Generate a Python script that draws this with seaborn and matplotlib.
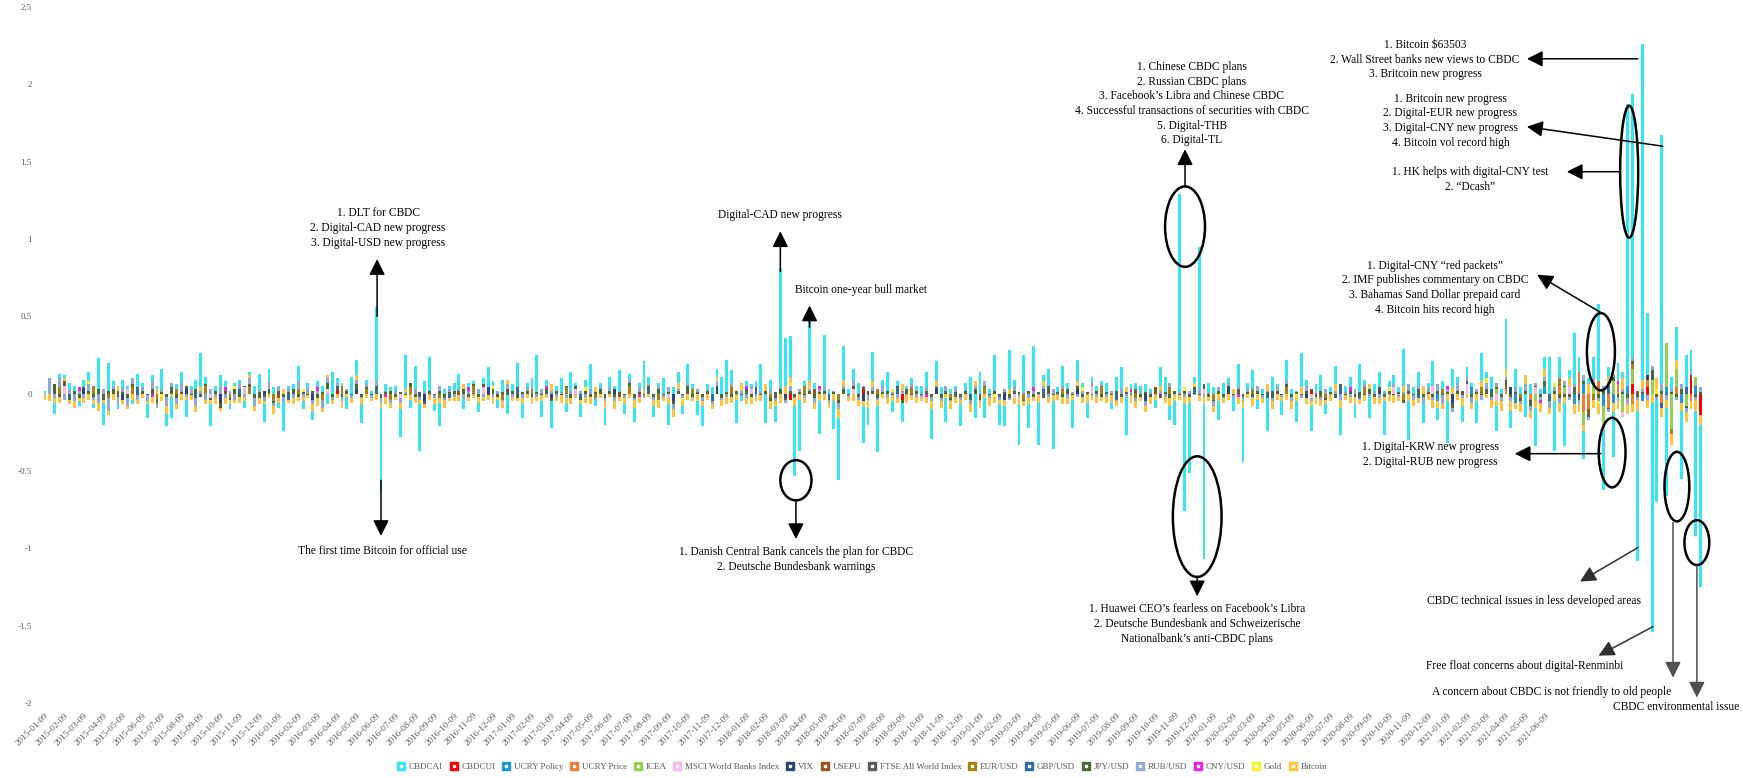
"""
CBDC attention index vs. market variables - weekly stacked contributions.
"""

import matplotlib

matplotlib.use("Agg")
import matplotlib.pyplot as plt
from matplotlib.lines import Line2D
from matplotlib.patches import Ellipse
import numpy as np
import pandas as pd
import seaborn as sns

N_WEEKS = 341

# monthly tick labels, one every 4 weekly bars
month_labels = [
    d.strftime("%Y-%m-%d")
    for d in pd.date_range("2015-01-09", periods=78, freq=pd.DateOffset(months=1))
]

# values are in hundredths
cbdcai = [
    2, 0, -7, 3, 2, 4, 3, -3, 5, 6, -2, 20, -14, 18, 3, -4, 5, 2, -3, 9,
    3, -9, 4, 2, 13, -8, -14, 3, 7, -11, 2, 6, 22, 5, -14, 3, 7, 4, -3, 2,
    3, -4, 2, 5, 10, -11, 7, 4, -3, -18, 2, 3, 10, -5, 3, -6, 4, 4, -7, 14,
    3, 2, -8, 11, 10, -12, 3, 2, 47, -54, 4, 2, 3, -18, 22, -5, 15, -30, 6, 22,
    -4, -15, 3, 2, 5, 10, -7, 3, 2, -6, 4, 12, 3, -5, 8, -12, 4, 15, -9, 3,
    6, 24, -10, 4, -17, 3, 9, -6, 12, 2, -8, 5, 16, -4, 3, -11, 7, 2, 13, -6,
    4, -9, 3, 18, 5, -7, 2, 10, -13, 4, 7, -5, 12, 3, -9, -13, 3, 4, 5, 11,
    21, 8, -15, -4, 3, 2, 4, 17, -18, 6, -10, 77, 31, 26, -45, -33, 3, 42, 4, -21,
    33, 3, -18, -40, 22, 3, 8, 7, -24, -11, 19, -30, 4, 12, -7, 3, -12, 2, 4, 3,
    5, 10, -19, 13, 4, -15, 3, 2, -14, 4, 11, -16, 14, -13, 3, 22, -13, -13, 25, 4,
    -26, 24, -15, 27, -27, 4, 11, -31, 3, 13, 4, -18, 14, 3, -10, 4, 3, 2, 6, -4,
    9, 14, -25, 3, 4, 3, 5, 2, -5, 12, 10, -9, -15, 128, -69, -45, 4, 92, -100, 6,
    4, -12, 7, 3, -8, 15, -35, 4, 12, -6, 3, -21, 9, 2, -9, 14, 3, -13, 22, 4,
    -16, 5, 10, -6, 3, 12, -18, 4, 7, -9, 18, 3, -14, 5, 10, -22, 4, 6, 3, 24,
    -25, 4, 9, -12, 3, 16, -8, 5, -27, 12, 4, -10, 6, 3, -14, 18, 4, 8, -16, 3,
    32, -11, 12, 4, -15, 6, -25, 3, 8, 24, -32, 14, -28, 5, 33, 10, -18, 4, 14, 50,
    -39, 6, -29, 12, 4, 182, 170, -97, 217, 40, -148, -66, 161, -57, 8, 21, -44, 21, 14, -81, -105,
]

bitcoin = [
    -4, -5, -3, -4, 2, -3, -4, -2, -3, -4, -3, -5, -2, -3, -4, 3, -3, -2, -4, -3,
    -3, -2, -4, 3, -3, -5, -2, -3, -4, -2, -3, -4, 2, -3, -3, -5, -2, -4, -3, -2,
    -4, -3, 2, -3, -4, -2, -3, -5, -3, 3, -2, -4, -3, -3, -2, -4, -5, -3, 2, -3,
    -3, -4, -2, -3, 3, -4, -3, -2, -4, -3, -5, -3, -2, -4, 2, -3, -4, -3, -2, -3,
    -4, -3, -5, -2, -3, -4, 3, -3, -2, -4, -3, -3, -5, -2, -4, 3, -3, -2, -4, -3,
    -5, -3, -4, -2, 4, -3, -5, -3, -4, -2, -3, -4, -5, 3, -3, -4, -2, -5, -3, -4,
    -3, -5, -4, 3, -2, -4, -5, -3, -4, -5, 4, -3, -4, -2, -5, -3, -4, -3, 3, -4,
    -5, -4, -3, 5, -4, -5, -3, -4, 4, -5, -3, -6, 5, 4, -5, -4, -3, 5, -4, -5,
    -4, -3, -5, -6, 4, -3, -5, -4, -3, -5, 4, -4, -3, -5, -4, -3, 4, -5, -3, -4,
    -3, -4, -5, 3, -4, -3, -5, -4, -3, -4, -5, 3, -4, -3, -5, -4, -3, -4, 3, -4,
    -5, -3, -4, -3, -5, 3, -4, -4, -3, -5, -4, -3, 3, -4, -5, -3, -4, -3, -4, -5,
    -3, -4, 3, -5, -4, -3, -4, -5, -3, 3, -4, -5, -4, -3, -5, -4, 3, -4, -5, -3,
    -4, -5, -3, -4, 3, -5, -4, -3, -5, -4, -3, 4, -5, -4, -3, -4, -5, -3, 4, -4,
    -3, -5, -4, -3, -4, 4, -5, -3, -4, -5, -3, -4, 3, -5, -4, -3, -4, -5, -3, 4,
    -5, -4, -3, 5, -4, -5, -4, -3, -5, 4, -4, -5, -3, -4, -5, 4, -3, -5, -4, -6,
    5, -6, -4, -5, 6, -5, -4, -6, 5, -4, -5, -6, -4, 5, -6, -5, -4, 6, -5, -6,
    -5, 6, -6, -5, 7, -6, -5, -7, 6, -5, -6, 7, -6, -5, -7, 6, -5, -6, -5, -7, -6,
]

rub_usd = [
    0, 10, -3, 6, -4, 3, -5, 2, -3, 4, -2, -6, 3, -8, 2, -4, 3, -5, 4, -3,
    2, -4, 5, -3, 2, -6, 3, -4, 6, -2, 3, -5, 2, -4, 3, -2, 5, -3, 2, -4,
    3, -2, 4, -5, 2, -3, 6, -2, 3, -4, 2, -3, 5, -2, 4, -3, 2, -5, 3, -2,
    2, -3, 1, -2, 3, -1, 2, -2, 4, -3, 1, -2, 2, -3, 1, -1, 3, -2, 2, -1,
    -2, 3, -1, 2, -2, 1, -3, 2, -1, 3, -2, 1, -2, 2, -1, 3, -2, 1, -3, 2,
    1, -2, 3, -1, 2, -2, 1, -3, 2, -1, 2, -2, 3, -1, 1, -2, 2, -3, 1, -2,
    2, -1, 3, -2, 1, -2, 2, -1, 3, -3, 1, -2, 2, -1, 2, -3, 1, -2, 3, -1,
    -2, 3, -1, 2, -3, 1, -2, 2, -1, 3, -2, 1, -2, 3, -1, 2, -2, 1, -3, 2,
    3, -2, 1, -4, 2, -1, 3, -2, 1, -3, 2, -1, 4, -2, 1, -3, 2, -1, 2, -2,
    -1, 2, -3, 1, -2, 3, -1, 2, -2, 1, -3, 2, -1, 3, -2, 1, -2, 2, -1, 3,
    -2, 1, -3, 2, -1, 2, -2, 3, -1, 2, -3, 1, -2, 2, -1, 3, -2, 1, -2, 2,
    -1, 3, -2, 1, -2, 2, -3, 1, -1, 2, -2, 3, -1, 1, -2, 2, -1, 3, -2, 1,
    -3, 2, -1, 2, -2, 1, -3, 2, -1, 3, -2, 1, -2, 2, -1, 2, -3, 1, -2, 3,
    -2, 1, -2, 3, -1, 2, -4, 1, -2, 3, -1, 2, -2, 1, -3, 2, -1, 2, -2, 1,
    4, -3, 2, -5, 3, -2, 4, -6, 2, -3, 5, -2, 3, -4, 2, -3, 4, -2, 3, -3,
    2, -3, 3, -2, 4, -3, 2, -2, 3, -4, 2, -3, 3, -2, 2, -3, 4, -2, 3, -2,
    3, -2, 2, -3, 2, -4, 3, -2, 2, -3, 3, -2, 4, -3, 2, -2, 3, -3, 2, -2, 3,
]

jpy_usd = [
    0, 0, 4, -2, 3, -1, 2, -3, 1, 2, -2, 3, -1, 2, 3, -2, 1, -3, 2, -1,
    2, -1, 3, -2, 1, -2, 2, -3, 1, 2, -1, 3, -2, 1, -1, 2, -3, 2, -1, 3,
    -2, 1, 2, -3, 1, -2, 3, -1, 2, -2, 1, 3, -2, 1, -1, 2, -3, 1, 4, -2,
    1, -2, 2, -1, 3, -2, 1, -1, 2, -3, 1, 2, -2, 1, -1, 3, -2, 1, -2, 2,
    -1, 2, -3, 1, 2, -1, 3, -2, 1, -2, 2, -1, 3, -2, 1, -1, 2, -3, 1, 2,
    -2, 1, -1, 3, -2, 2, -1, 1, -3, 2, -1, 2, -2, 1, 3, -1, 2, -2, 1, -1,
    2, -3, 1, -1, 2, -2, 3, -1, 1, -2, 2, -1, 3, -2, 1, -2, 2, -1, 1, -3,
    1, -2, 2, -1, 3, -2, 1, -1, 2, -2, 1, 3, -1, 2, -2, 1, -1, 2, -3, 1,
    2, -1, 1, -2, 3, -1, 2, -2, 1, -1, 2, -3, 1, 2, -1, 1, -2, 3, -1, 2,
    -1, 2, -2, 1, -3, 2, -1, 1, -2, 2, -1, 3, -2, 1, -1, 2, -2, 1, -3, 2,
    1, -1, 2, -2, 1, -3, 2, -1, 1, -2, 3, -1, 2, -2, 1, -1, 2, -2, 1, -1,
    2, -2, 1, -1, 3, -2, 1, -2, 2, -1, 1, -3, 2, -1, 2, -2, 1, -1, 3, -2,
    -1, 2, -2, 1, -1, 3, -2, 1, -2, 2, -1, 1, -3, 2, -1, 2, -2, 1, -1, 2,
    1, -2, 2, -1, 1, -3, 2, -1, 2, -2, 1, -1, 3, -2, 1, -2, 2, -1, 1, -2,
    2, -1, 3, -2, 1, -2, 2, -1, 1, -3, 2, -1, 2, -2, 1, -1, 3, -2, 1, -2,
    3, -2, 1, -2, 2, -4, 1, -2, 3, -1, 2, -3, 1, -2, 4, -1, 2, -2, 1, -3,
    2, -1, 3, -2, 1, -3, 2, -2, 1, -1, 3, -2, 2, -1, 1, -2, 3, -1, 2, -2, 1,
]

# sparse series: {week index: value in hundredths}
eur_usd = {3: 4, 10: 5, 13: -3, 18: 4, 23: -4, 27: 3, 33: 5, 38: -3, 42: 4, 47: -5,
           52: 3, 57: -4, 61: 5, 66: 3, 71: -4, 75: 4, 81: -3, 88: 5, 94: -4, 100: 3,
           107: 4, 113: -3, 120: 5, 126: -4, 133: 3, 141: 4, 149: -3, 156: 5, 163: -4,
           171: 3, 178: 4, 186: -3, 193: 4, 201: -4, 209: 3, 217: 5, 224: -3, 231: 4,
           240: -4, 248: 3, 255: 4, 263: -3, 271: 4, 279: -4, 287: 3, 295: 4, 303: -3,
           311: 5, 318: -4, 326: 3, 334: -3}
vix = {8: 3, 16: -4, 29: 3, 36: -6, 45: 2, 55: -4, 64: 3, 78: -5, 91: 4, 104: -3,
       117: 3, 129: -5, 138: 4, 152: -3, 168: -5, 183: 3, 197: -4, 212: 3, 226: -5,
       243: 4, 259: -3, 274: 3, 289: -6, 301: 4, 315: -3, 329: 3}
gbp_usd = {5: -3, 19: 4, 31: -3, 40: 3, 50: -4, 68: 3, 83: -3, 97: 4, 110: -3, 124: 3,
           137: -4, 146: 3, 161: -3, 175: 4, 190: -3, 205: 3, 220: -4, 236: 3, 251: -3,
           266: 4, 282: -3, 297: 3, 309: -4, 321: 5, 332: -3, 337: 4}
ftse = {2: 2, 12: -3, 26: 2, 44: -3, 60: 2, 77: -2, 95: 3, 115: -2, 132: 2, 150: -3,
        169: 2, 187: -2, 206: 3, 229: -2, 252: 2, 270: -3, 291: 2, 312: -2, 330: 3}
msci = {4: 5, 17: 3, 34: -3, 41: 4, 58: 3, 73: -3, 90: 4, 109: 3, 128: -3, 145: 3,
        166: 3, 199: -3, 215: 4, 238: 3, 260: -3, 277: 4, 285: 5, 292: 6, 298: -4,
        306: 4, 313: 5, 324: -3}
cny_usd = {7: 2, 22: -2, 37: 2, 56: 2, 70: -2, 87: 2, 103: 2, 122: -2, 144: 2, 159: 2,
           181: -2, 203: 2, 223: 2, 245: -2, 268: 2, 288: 2, 307: -2, 323: 2}
gold = {9: 2, 24: -2, 39: 2, 53: 2, 74: -2, 92: 2, 111: 2, 131: -2, 153: 2, 174: 2,
        195: -2, 213: 2, 234: 2, 257: -2, 276: 2, 296: 3, 310: 3, 319: -2, 331: 3}
usepu = {15: 2, 48: -3, 85: 2, 118: -2, 158: 3, 192: -2, 228: 2, 262: -2, 300: 3,
         317: -3, 327: 2}
ucry_policy = {286: -5, 293: 4, 302: -6, 308: 5, 314: -7, 316: 6, 320: -8, 322: -6,
               325: 5, 328: -5, 333: 4, 336: -6, 339: 5}
ucry_price = {300: 3, 305: -4, 311: 5, 315: 14, 316: -12, 317: -10, 319: 8, 321: -9,
              323: 6, 326: -7, 329: 5, 332: -6, 335: 4, 338: -5}
icea = {298: 3, 306: -5, 312: 4, 316: -8, 318: 6, 320: -10, 322: 8, 324: -12, 326: 10,
        330: 9, 333: 29, 334: -23, 335: 12, 337: -8, 339: 6}
cbdcui = {60: 2, 153: -4, 168: 3, 176: -4, 260: 2, 326: 6, 329: 4, 338: 10, 340: -14}

series_names = ["CBDCAI", "CBDCUI", "UCRY Policy", "UCRY Price", "ICEA",
                "MSCI World Banks Index", "VIX", "USEPU", "FTSE All World Index",
                "EUR/USD", "GBP/USD", "JPY/USD", "RUB/USD", "CNY/USD", "Gold", "Bitcoin"]
series_colors = ["#33E8F2", "#FF0000", "#1C9AD6", "#ED7D31", "#92D050",
                 "#F6B8EE", "#2A4275", "#A0521E", "#5A5A5A",
                 "#A88210", "#2E6DA4", "#4A6A2E", "#8FA8DA", "#F020E8", "#F4F22A", "#FFC43A"]


def dense(sparse):
    arr = np.zeros(N_WEEKS)
    for k, v in sparse.items():
        arr[k] = v
    return arr


df = pd.DataFrame({
    "CBDCAI": cbdcai, "CBDCUI": dense(cbdcui), "UCRY Policy": dense(ucry_policy),
    "UCRY Price": dense(ucry_price), "ICEA": dense(icea), "MSCI World Banks Index": dense(msci),
    "VIX": dense(vix), "USEPU": dense(usepu), "FTSE All World Index": dense(ftse),
    "EUR/USD": dense(eur_usd), "GBP/USD": dense(gbp_usd), "JPY/USD": jpy_usd,
    "RUB/USD": rub_usd, "CNY/USD": dense(cny_usd), "Gold": dense(gold), "Bitcoin": bitcoin,
}) / 100.0

sns.set_theme(style="white")
plt.rcParams["font.family"] = ["Liberation Serif", "DejaVu Serif"]

W, H = 1743, 778
fig = plt.figure(figsize=(W / 100, H / 100), dpi=100)
ax = fig.add_axes([40.1 / W, 75 / H, 1670.4 / W, 696 / H])

# small series stacked next to zero, CBDCAI outermost
draw_order = series_names[1:] + ["CBDCAI"]
color_map = dict(zip(series_names, series_colors))
x = np.arange(N_WEEKS)
pos_base = np.zeros(N_WEEKS)
neg_base = np.zeros(N_WEEKS)
for name in draw_order:
    vals = df[name].to_numpy()
    bottom = np.where(vals >= 0, pos_base, neg_base)
    ax.bar(x, vals, width=0.6, bottom=bottom, color=color_map[name], linewidth=0)
    pos_base += np.clip(vals, 0, None)
    neg_base += np.clip(vals, None, 0)

ax.set_xlim(-1, N_WEEKS + 1)
ax.set_ylim(-2, 2.5)
ax.set_yticks([2.5, 2, 1.5, 1, 0.5, 0, -0.5, -1, -1.5, -2])
ax.set_yticklabels(["2.5", "2", "1.5", "1", "0.5", "0", "-0.5", "-1", "-1.5", "-2"])
ax.set_xticks(np.arange(len(month_labels)) * 4)
ax.set_xticklabels(month_labels, rotation=45, ha="right", rotation_mode="anchor")
ax.tick_params(axis="y", length=0, pad=6, labelsize=6.5, labelcolor="#595959")
ax.tick_params(axis="x", length=0, pad=6, labelsize=6.6, labelcolor="#595959")
sns.despine(ax=ax, left=True, bottom=True)

# annotations
ARROW = "-|>,head_length=0.6,head_width=0.3"


def arrow(tail, head, color="black"):
    ax.annotate("", xy=head, xytext=tail, annotation_clip=False,
                arrowprops=dict(arrowstyle=ARROW, color=color, lw=1.1,
                                shrinkA=0, shrinkB=0, mutation_scale=16))


def note(xc, yc, s):
    ax.text(xc, yc, s, ha="center", va="center", fontsize=8.3, color="black",
            linespacing=1.3, parse_math=False, clip_on=False)


def ring(xc, yc, w, h):
    ax.add_patch(Ellipse((xc, yc), w, h, fill=False, edgecolor="black", lw=1.8,
                         clip_on=False))


note(68.4, 1.07, "1. DLT for CBDC\n2. Digital-CAD new progress\n3. Digital-USD new progress")
arrow((68.2, 0.5), (68.2, 0.87))
note(69.2, -1.02, "The first time Bitcoin for official use")
arrow((69.0, -0.56), (69.0, -0.92))

note(150.9, 1.157, "Digital-CAD new progress")
arrow((151, 0.79), (151, 1.05))
note(167.5, 0.67, "Bitcoin one-year bull market")
arrow((157, 0.43), (157, 0.57))

ring(154.2, -0.56, 6.4, 0.26)
arrow((154.2, -0.70), (154.2, -0.94))
note(154.2, -1.07, "1. Danish Central Bank cancels the plan for CBDC\n2. Deutsche Bundesbank warnings")

ring(234.1, 1.08, 8.2, 0.52)
arrow((234.1, 1.34), (234.1, 1.58))
note(235.5, 1.875, "1. Chinese CBDC plans\n2. Russian CBDC plans\n"
     "3. Facebook\u2019s Libra and Chinese CBDC\n4. Successful transactions of securities with CBDC\n"
     "5. Digital-THB\n6. Digital-TL")

ring(236.6, -0.795, 10, 0.78)
arrow((236.6, -1.18), (236.6, -1.31))
note(236.6, -1.49, "1. Huawei CEO\u2019s fearless on Facebook\u2019s Libra\n"
     "2. Deutsche Bundesbank and Schweizerische\nNationalbank\u2019s anti-CBDC plans")

note(283.4, 2.16, "1. Bitcoin $63503\n2. Wall Street banks new views to CBDC\n3. Britcoin new progress")
arrow((327.1, 2.165), (304.3, 2.165))
note(288.6, 1.765, "1. Britcoin new progress\n2. Digital-EUR new progress\n"
     "3. Digital-CNY new progress\n4. Bitcoin vol record high")
arrow((332.2, 1.60), (304.3, 1.726))
ring(325.3, 1.435, 3.7, 0.853)
note(292.7, 1.383, "1. HK helps with digital-CNY test\n2. \u201cDcash\u201d")
arrow((323.4, 1.435), (312.5, 1.435))

ring(319.5, 0.271, 5.75, 0.50)
note(285.4, 0.685, "1. Digital-CNY \u201cred packets\u201d\n2. IMF publishes commentary on CBDC\n"
     "3. Bahamas Sand Dollar prepaid card\n4. Bitcoin hits record high")
arrow((319.5, 0.524), (306.4, 0.769))

ring(321.8, -0.381, 5.5, 0.45)
arrow((319.5, -0.388), (301.8, -0.388))
note(284.4, -0.394, "1. Digital-KRW new progress\n2. Digital-RUB new progress")

arrow((327.1, -0.995), (315.2, -1.215), color="#303030")
note(305.7, -1.338, "CBDC technical issues in less developed areas")
arrow((330.2, -1.506), (319.0, -1.694), color="#303030")
note(303.9, -1.758, "Free float concerns about digital-Renminbi")

ring(335.1, -0.601, 5.1, 0.45)
arrow((334.3, -0.834), (334.3, -1.836), color="#505050")
note(309.4, -1.926, "A concern about CBDC is not friendly to old people")

ring(339.2, -0.963, 5.1, 0.29)
arrow((339.2, -1.112), (339.2, -1.965), color="#505050")
note(334.9, -2.023, "CBDC environmental issue")

# legend with Excel-like square markers
handles = [
    (Line2D([], [], ls="", marker="s", markersize=5.5, color=c),
     Line2D([], [], ls="", marker="s", markersize=2, color="white"))
    for c in series_colors
]
fig.legend(handles, series_names, loc="center", bbox_to_anchor=(862 / W, 11 / H),
           ncol=len(series_names), frameon=False, fontsize=6.5, handlelength=0.9,
           handletextpad=0.4, columnspacing=0.75, labelcolor="#595959")

plt.savefig("out.png", dpi=100)
plt.close()
